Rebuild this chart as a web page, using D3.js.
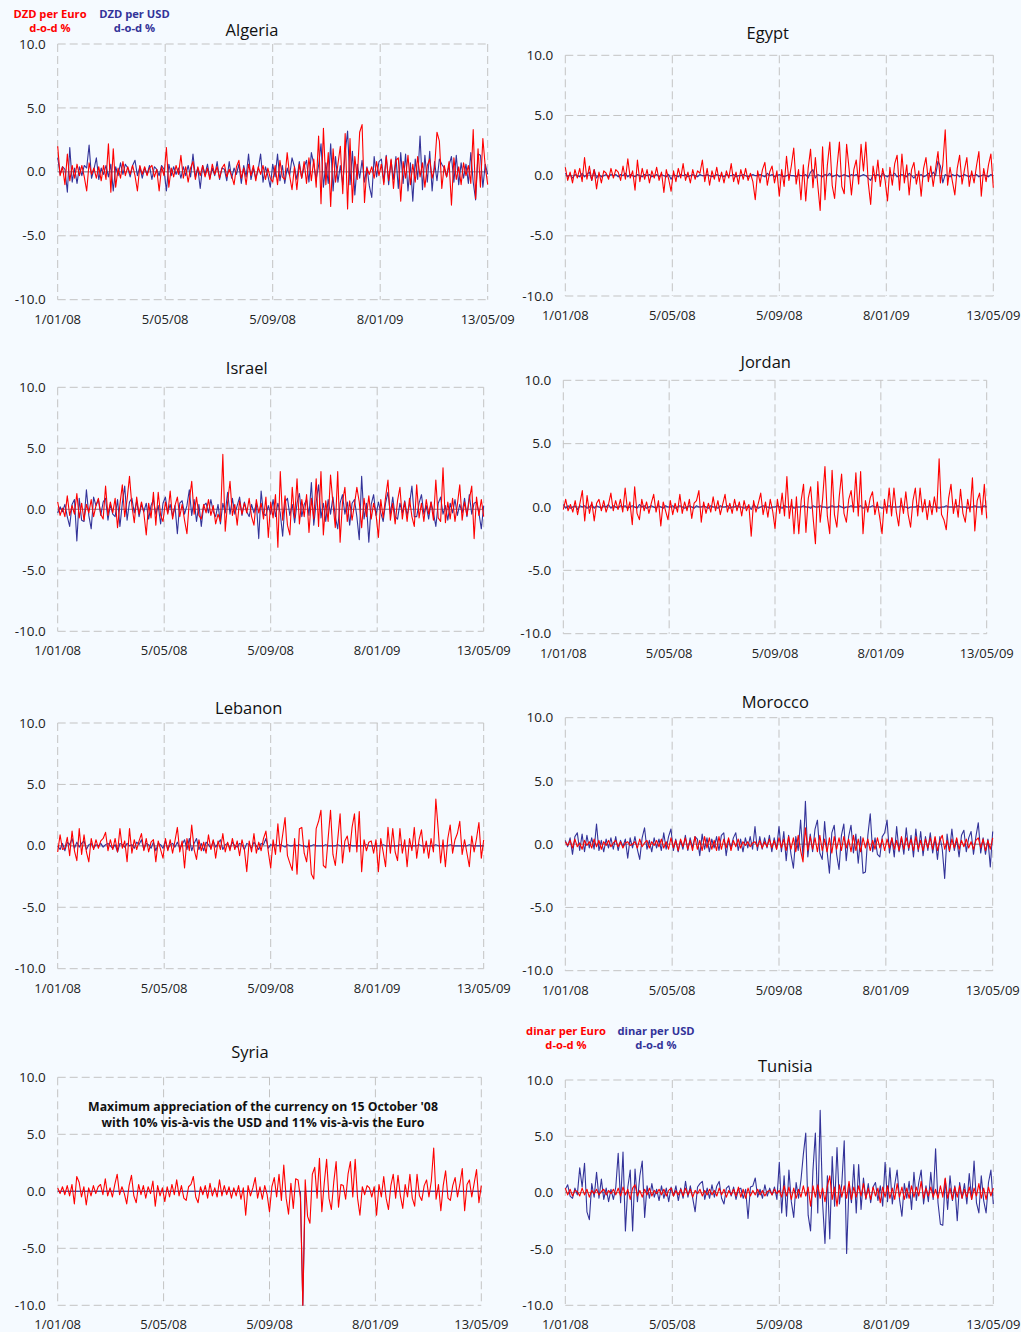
<!DOCTYPE html>
<html>
<head>
<meta charset="utf-8">
<script src="https://cdn.jsdelivr.net/npm/d3@7"></script>
<style>
  html, body { margin: 0; padding: 0; background: #f5faff; }
  svg { display: block; font-family: "Open Sans", "DejaVu Sans", sans-serif; }
</style>
</head>
<body>
<div id="chart"></div>
<script>
// Day-on-day % changes of local currencies against the Euro and the US dollar,
// one value every second business day from 1 Jan 2008 to 13 May 2009.
const tickLabels = ["1/01/08", "5/05/08", "5/09/08", "8/01/09", "13/05/09"];
const tickDays = [0, 89, 178, 267, 356];
const lastDay = 356;
const yTicks = [-10, -5, 0, 5, 10];
const countries = ["Algeria", "Egypt", "Israel", "Jordan", "Lebanon", "Morocco", "Syria", "Tunisia"];

const algeriaEuro = [
  2.0,-0.3,0.4,-1.0,1.4,-0.7,0.5,-0.5,0.6,-0.3,0.5,-0.4,-1.5,0.7,-0.2,0.3,-0.5,0.4,-0.7,0.5,
  -0.6,2.2,-1.6,1.8,-1.2,0.3,-0.5,0.8,-0.3,0.4,-0.2,0.5,-0.3,-1.5,0.5,-0.2,0.4,-0.3,0.3,0.5,
  -0.4,0.2,-1.5,0.4,-0.3,1.9,-1.2,0.3,-0.4,0.5,-0.2,1.3,-0.5,0.4,-0.8,0.3,0.8,-0.6,0.4,-0.3,
  0.5,-0.4,0.3,-0.6,0.6,-0.2,0.4,-0.5,0.3,0.6,-0.4,0.2,-0.3,-1.0,0.4,0.9,-0.5,0.3,-1.0,0.6,
  -0.3,0.5,-0.7,0.4,-0.2,0.5,-0.6,0.3,-0.5,-0.8,0.5,-1.0,0.9,-0.4,-0.6,1.5,-0.3,-1.4,0.4,-1.4,
  0.6,-0.5,0.8,-0.9,1.1,-0.7,1.0,-1.2,2.8,-2.5,3.4,-1.0,1.5,-2.7,1.8,-0.8,0.6,2.0,-1.7,3.0,
  -2.9,2.6,-2.4,1.2,-0.6,3.1,3.7,-2.4,0.3,-0.2,0.4,-0.5,0.8,-0.3,0.6,-1.0,1.2,-0.7,1.0,-1.3,
  0.9,1.1,-2.3,0.8,-0.5,1.3,-1.0,0.6,-0.8,1.2,-0.4,0.7,-1.2,0.5,1.0,-0.5,0.3,3.1,2.4,-1.3,
  0.5,-0.4,0.8,-2.6,1.1,-0.6,0.4,-1.0,0.7,-0.3,0.5,-0.9,3.3,-2.1,1.8,-1.2,2.6,0.4,-1.0
];
const algeriaUsd = [
  1.1,-0.2,0.4,0.2,-1.6,1.9,-0.8,0.3,-0.9,0.4,-0.3,0.5,0.3,2.1,-0.5,0.2,1.1,-0.6,0.3,-0.2,
  0.5,-0.4,0.6,-1.5,0.4,-0.3,0.7,-0.2,0.6,0.3,-0.4,0.5,0.9,-0.3,0.4,-0.5,0.3,-0.2,0.5,-0.6,
  0.4,0.2,-0.3,0.5,0.2,-1.5,0.6,-0.3,0.4,-0.2,0.3,-0.5,0.4,-0.3,0.5,-0.4,1.4,-0.4,0.3,-1.3,
  0.5,-0.2,0.6,-0.5,0.3,-0.3,0.8,-0.6,0.3,0.2,-0.7,0.8,-0.5,0.3,-0.2,0.6,-0.9,0.5,-0.4,1.4,
  -0.6,0.3,-0.5,0.2,1.4,-0.8,0.4,-0.3,-1.2,0.6,-0.4,1.4,-0.7,0.5,-0.9,0.3,-0.3,1.1,0.4,-0.6,
  0.8,-0.5,0.4,0.9,-0.8,1.5,0.6,-0.6,0.5,2.2,-1.2,0.7,-0.9,2.2,-1.5,1.2,-0.8,0.5,-1.0,1.5,
  3.2,-1.0,1.6,-1.8,0.6,-0.5,0.9,-0.8,0.4,-1.1,-2.0,1.2,-0.4,0.8,1.0,-0.8,1.3,-1.0,0.9,-0.6,
  1.2,-1.3,1.5,-0.9,1.4,-1.5,0.7,-2.3,1.0,-0.6,2.8,-1.4,1.3,-0.8,1.6,-1.5,0.8,-0.7,1.0,0.6,
  0.3,-0.4,0.5,1.2,-0.8,1.3,-1.0,0.7,-0.5,0.6,-0.9,1.5,-0.8,-2.2,1.4,1.3,-1.2,0.6,-0.2
];
const egyptEuro = [
  0.7,-0.4,0.3,-0.6,0.5,-0.2,0.6,-0.5,1.5,-0.3,0.8,-0.4,0.5,-1.1,0.3,-0.6,0.4,0.2,-0.3,0.6,
  -0.2,0.5,0.3,-0.4,0.8,-0.3,1.4,-0.2,0.4,-1.2,1.3,-0.5,0.6,-0.3,0.5,-0.6,0.4,-0.2,0.7,-0.4,
  0.3,-1.4,0.5,-0.3,-1.3,0.4,-0.5,0.6,-0.2,1.0,-0.4,0.3,-0.6,0.5,-0.3,0.4,0.2,1.3,-0.5,0.6,
  -0.8,0.4,-0.3,0.7,-0.5,0.3,-0.6,0.4,-0.2,1.0,-0.5,0.3,-0.7,0.5,-0.3,0.6,-0.4,0.2,-0.5,-2.0,
  0.4,-0.6,0.5,1.1,-0.8,0.3,0.8,-0.6,0.4,-1.7,0.5,-0.9,1.6,-0.4,0.8,2.3,-0.7,0.5,-2.0,0.9,
  -2.1,0.6,2.2,-1.0,1.5,-0.8,-2.9,2.4,-2.0,0.9,2.8,-0.8,-1.9,0.7,2.8,-0.9,-1.5,2.6,0.6,-1.6,
  0.5,1.3,-0.7,2.6,0.4,2.8,-0.6,-2.4,0.8,-0.5,1.3,-0.9,0.6,-0.4,-2.1,0.7,-0.8,1.0,1.7,-1.2,
  1.8,-0.6,0.9,-1.6,0.5,1.1,-0.7,0.4,-1.7,0.6,1.5,-0.5,0.8,-0.9,0.6,2.0,-0.6,0.9,3.8,-0.8,
  0.7,-0.5,-1.6,0.6,1.7,-0.7,0.5,1.5,-0.9,0.4,-0.6,0.8,2.0,-1.7,0.6,-0.5,0.9,1.8,-1.0
];
const egyptUsd = [
  0.2,-0.1,0.1,-0.2,0.1,0.0,-0.1,0.2,-0.1,0.1,0.3,-0.4,0.5,-0.2,0.1,-0.1,0.0,0.1,-0.1,0.1,
  0.0,0.1,-0.1,0.1,0.0,0.2,-0.1,0.1,0.0,-0.1,0.1,0.0,-0.1,0.1,0.0,0.1,-0.1,0.0,0.1,-0.1,
  0.1,0.0,-0.1,0.1,-0.3,0.1,0.0,-0.1,0.1,0.0,0.1,-0.1,0.0,0.1,0.0,-0.1,0.1,0.0,0.0,0.1,
  0.0,-0.1,0.0,0.1,0.0,0.0,-0.1,0.1,0.0,0.0,0.1,-0.1,0.0,0.0,0.1,0.0,-0.1,0.0,0.1,0.0,
  0.0,0.1,0.0,-0.1,0.2,0.0,0.1,-0.1,0.0,0.1,0.0,-0.1,0.0,0.1,0.0,0.0,-0.1,0.1,0.0,0.0,
  0.1,-0.2,0.3,0.5,-0.2,0.1,0.0,-0.1,0.1,0.0,0.2,-0.1,0.0,0.1,-0.1,0.0,0.1,0.0,-0.1,0.1,
  0.0,0.1,-0.1,0.0,0.1,0.0,-0.2,-0.4,0.1,0.0,0.1,-0.1,0.2,0.0,-0.1,0.1,0.0,0.2,-0.1,0.0,
  0.1,0.0,-0.1,0.2,0.0,-0.2,0.1,0.0,0.1,-0.1,0.0,0.2,-0.1,0.3,0.0,1.2,0.8,-0.6,0.1,0.0,
  -0.1,0.1,0.0,0.1,-0.1,0.0,0.1,0.0,-0.1,0.1,0.0,0.1,-0.1,0.0,0.1,0.0,-0.1,0.1,0.0
];
const israelEuro = [
  0.6,-0.5,0.1,-0.6,1.1,-0.5,0.3,-0.4,1.3,-0.7,0.5,-0.9,0.4,-0.3,0.8,-0.6,0.3,0.9,-0.4,-0.8,
  1.9,-0.5,0.6,-0.3,0.9,-1.5,0.4,2.0,-0.6,0.8,2.7,0.3,-1.1,1.0,-0.4,0.6,-0.3,-2.1,0.5,-0.7,
  1.4,-1.3,1.4,-0.5,-1.0,0.6,-0.4,1.5,-0.8,0.3,1.0,-0.6,0.4,-0.9,-2.0,0.7,2.3,-0.4,1.0,-0.5,
  -0.8,0.4,-0.3,0.8,-0.5,0.3,-1.2,-0.4,-1.0,4.5,-1.8,0.6,2.3,-0.5,0.4,-1.3,0.7,-0.4,0.5,-0.3,
  0.9,-0.6,-1.3,0.8,-0.3,0.5,-0.8,1.0,-2.3,0.6,-0.7,1.2,-3.1,3.1,-0.9,1.1,-1.3,-2.1,1.8,-0.7,
  2.5,-1.2,0.8,-0.6,1.2,-1.9,0.9,-0.8,2.5,-1.4,3.1,-2.1,0.7,-1.0,2.8,0.5,-1.5,3.1,-2.7,0.6,
  1.8,-1.0,0.7,-0.9,0.4,1.8,0.6,-1.5,0.9,-0.6,1.1,-0.8,0.5,-0.4,-2.3,0.8,-0.7,1.0,2.4,-0.9,
  0.5,-1.2,0.7,1.8,-0.8,0.6,-1.0,0.9,-0.6,-1.4,2.0,-0.7,0.5,-1.0,0.8,-0.4,0.6,-0.9,2.4,-0.7,
  -1.0,3.4,-1.1,0.6,-0.8,0.9,-1.0,0.4,2.0,-0.9,0.6,-0.5,0.8,1.9,-2.4,1.0,-0.5,0.8,-0.6
];
const israelUsd = [
  -0.3,0.2,-0.2,0.4,-0.6,-1.4,0.4,0.8,-2.6,0.9,-0.9,-1.0,1.6,-0.5,-1.6,1.0,0.3,0.8,-0.5,0.6,
  0.9,-0.9,0.4,-0.4,-0.6,0.8,-1.4,0.5,1.9,-0.9,0.6,0.9,-0.3,0.7,-0.6,0.4,-0.2,0.5,-0.8,0.3,
  0.8,-0.4,0.3,-1.2,0.5,1.0,-0.3,0.4,-0.6,0.3,-2.0,0.5,0.7,-0.4,0.3,1.6,-0.5,0.8,-1.0,0.4,
  -1.4,0.3,0.5,-0.3,0.8,-0.2,-0.6,0.4,-1.2,0.5,-0.3,1.4,-0.4,0.9,-0.4,0.3,1.0,-0.5,0.6,-0.2,
  -0.6,0.4,-0.3,0.5,-2.4,1.5,-0.4,-0.5,0.3,-0.4,0.8,-0.6,0.5,-0.3,-2.2,0.6,0.9,-0.5,0.4,-1.1,
  0.5,1.3,-0.6,0.4,0.8,-0.5,2.2,-1.3,0.6,2.0,-0.7,0.5,-1.0,0.8,-0.4,1.0,-0.6,-1.6,0.5,1.2,
  -0.4,0.6,-1.3,0.5,0.8,-0.6,-2.5,2.7,-0.8,0.5,-2.7,0.4,1.2,-0.5,0.6,-0.3,-1.0,0.5,1.4,-0.4,
  1.0,-0.6,-0.8,0.5,-0.3,0.7,-0.5,0.4,1.9,-0.6,-0.6,0.5,1.2,-0.4,0.3,-0.8,0.6,-0.3,-1.4,0.5,
  1.0,-0.4,0.3,-0.9,0.5,-0.3,0.8,-0.5,0.4,-0.3,0.9,-0.6,1.2,-0.4,0.5,0.6,-0.3,-1.6,0.3
];
const jordanEuro = [
  -0.2,0.6,-0.3,0.2,-0.4,0.5,-0.6,0.3,1.3,-1.1,0.9,-0.5,0.4,-1.1,0.3,0.6,-0.3,0.5,-0.4,0.2,
  1.1,-0.3,0.5,-0.2,0.6,-0.4,1.5,-0.3,0.4,-1.4,1.6,-0.5,-1.0,0.6,-0.3,0.4,-0.5,0.3,1.0,-0.4,
  0.5,-1.5,0.4,-0.3,-1.0,0.5,-0.6,0.3,-0.4,1.0,-0.5,0.4,-0.3,0.6,-0.9,0.3,0.5,1.3,-1.2,0.4,
  -0.5,0.3,-0.4,0.8,-0.3,0.5,-0.6,0.2,1.0,-0.4,0.3,-0.5,0.6,-0.3,0.4,-0.7,0.5,-0.3,0.2,-2.3,
  0.5,-0.4,0.3,1.1,-0.6,0.4,-0.8,0.6,-0.3,-1.7,0.6,-0.5,1.1,-0.7,2.4,-0.9,0.6,-2.1,0.8,-2.1,
  0.5,1.8,-2.0,0.7,1.6,-0.8,-2.9,2.0,-1.2,0.6,3.2,-0.7,-2.1,2.9,-0.6,-1.6,0.8,2.6,-0.5,-1.2,
  0.6,1.3,-0.4,2.7,-0.7,2.8,-2.1,0.5,-0.4,0.7,1.2,-0.6,0.4,-0.8,-2.1,0.6,-0.5,1.5,-0.7,1.5,
  -0.4,-1.5,0.7,-0.5,1.2,-0.6,-1.6,0.5,1.5,-0.7,1.5,-0.4,0.6,-1.0,0.5,-0.6,0.8,-0.4,3.8,-0.6,
  -1.0,-1.8,0.7,1.8,-0.5,0.6,-0.8,1.4,-0.5,-1.2,0.6,-0.4,2.3,-1.9,0.5,1.1,-0.6,1.8,-0.9
];
const jordanUsd = [
  0.2,-0.1,0.1,-0.1,0.0,0.1,-0.2,0.1,0.0,0.1,-0.1,0.0,0.2,-0.1,0.1,0.0,-0.1,0.1,0.0,0.2,
  -0.1,0.1,0.0,-0.1,0.1,0.0,0.1,-0.1,0.0,0.1,0.0,-0.1,0.2,0.0,0.1,-0.1,0.0,0.1,0.0,-0.1,
  0.1,0.0,-0.1,0.1,0.0,0.0,0.1,-0.1,0.0,0.1,0.0,-0.1,0.0,0.1,0.0,-0.1,0.1,0.0,0.0,0.1,
  0.0,-0.1,0.1,0.0,0.0,-0.1,0.1,0.0,0.0,0.1,-0.1,0.0,0.0,0.1,0.0,0.0,-0.1,0.0,0.1,-0.2,
  0.2,0.0,-0.1,0.0,0.1,0.0,0.0,-0.1,0.0,0.0,0.1,0.0,-0.1,0.1,0.0,0.0,0.1,-0.1,0.0,0.0,
  0.0,0.1,0.0,0.0,-0.1,0.1,0.0,0.0,0.1,0.0,0.0,-0.1,0.0,0.1,0.0,0.0,0.1,0.0,-0.1,0.0,
  0.0,0.1,0.0,0.0,0.0,0.1,-0.1,0.0,0.0,0.0,0.1,0.0,0.0,0.0,-0.1,0.0,0.0,0.1,0.0,0.0,
  0.0,0.0,0.1,0.0,0.0,-0.1,0.0,0.0,0.0,0.1,0.0,0.0,0.0,0.0,0.1,0.0,0.0,0.0,-0.1,0.0,
  0.0,0.1,0.0,0.0,0.0,0.0,0.1,0.0,0.0,0.0,-0.1,0.0,0.0,0.1,0.0,0.0,0.0,0.1,0.0
];
const lebanonEuro = [
  -0.5,0.9,-0.3,-0.2,0.7,-0.8,1.2,-0.4,-1.2,1.4,-0.7,0.9,-0.5,-1.3,0.6,-0.3,0.5,-0.2,0.4,0.6,
  1.1,-0.4,0.5,-0.3,0.6,-0.5,1.4,-0.2,0.4,-1.3,1.4,-0.6,0.5,-0.3,0.4,1.0,-0.4,0.6,-0.5,0.3,
  0.5,-1.3,0.4,-0.3,-1.0,0.6,-0.4,0.5,-0.6,0.4,1.5,-0.5,0.4,-1.8,0.6,-0.4,1.7,-0.3,-1.1,0.5,
  -0.4,0.3,-0.6,0.9,-0.3,0.5,-1.0,0.4,-0.3,1.0,-0.5,0.3,-0.4,0.6,-0.3,0.4,-0.8,0.5,-0.3,-2.1,
  0.4,-0.5,1.0,-0.6,0.3,-0.4,0.6,1.2,-0.5,-1.8,0.5,-0.7,1.8,-0.5,0.9,2.3,-0.8,-1.4,-2.0,0.6,
  -2.3,1.4,1.5,-0.6,-1.3,0.5,-2.3,-2.7,1.4,2.0,2.9,-1.6,-1.8,0.6,2.9,-0.7,-1.6,0.5,2.6,-1.4,
  0.4,0.8,-0.5,1.5,2.6,-0.5,2.8,-2.1,0.5,-0.4,0.3,0.4,-0.6,0.5,-2.1,0.6,-0.5,-1.7,1.5,-0.6,
  1.4,-0.5,-1.2,1.4,-0.6,0.5,-1.7,0.6,-0.4,1.5,-1.0,0.5,1.3,-0.6,0.4,-1.0,0.6,-0.5,3.8,1.3,
  -1.4,0.5,-1.7,0.6,1.7,-0.6,0.5,1.0,2.0,-0.7,0.5,-0.6,-1.7,0.8,-0.5,0.6,1.9,-1.0,0.5
];
const lebanonUsd = [
  0.0,-0.3,0.2,-0.4,0.3,0.1,0.6,-0.2,0.3,-0.1,0.2,0.4,-0.3,0.1,0.2,-0.2,0.1,0.0,0.2,-0.1,
  0.1,0.2,0.0,-0.2,0.1,-0.5,0.2,0.1,-0.1,0.2,0.0,0.1,-0.2,0.3,0.1,0.5,-0.3,0.2,0.1,-0.2,
  0.3,-0.4,0.2,0.1,-0.2,0.4,-0.3,0.1,0.2,-0.1,0.3,-0.2,0.1,0.5,-0.3,0.6,-0.4,0.2,0.6,-0.3,
  0.2,-0.4,0.3,0.1,-0.2,0.4,-0.1,0.2,0.5,-0.3,0.1,0.2,-0.2,0.3,0.0,-0.1,0.2,0.1,-0.3,0.2,
  0.1,-0.2,0.3,0.0,-0.3,0.2,0.1,0.6,-0.2,0.1,0.0,0.1,0.0,0.1,0.0,-0.1,0.1,0.0,0.0,0.1,
  0.0,0.1,0.0,0.0,-0.1,0.0,0.0,0.1,0.0,0.0,0.0,0.0,0.1,0.0,0.0,0.0,0.0,0.1,0.0,0.0,
  0.0,0.0,0.1,0.0,0.0,0.0,0.0,0.0,0.0,0.1,0.0,0.0,0.0,0.0,0.0,0.0,0.1,0.0,0.0,0.0,
  0.0,0.0,0.0,0.1,0.0,0.0,0.0,0.0,0.0,0.0,0.0,0.1,0.0,0.0,0.0,0.0,0.0,0.0,0.1,0.0,
  0.0,0.0,0.0,0.0,0.1,0.0,0.0,0.0,0.0,0.0,0.0,0.0,0.1,0.0,0.0,0.0,0.0,0.0,0.0
];
const moroccoEuro = [
  0.2,-0.1,0.3,-0.3,0.4,-0.2,0.1,-0.4,0.3,-0.1,0.2,-0.3,0.4,-0.2,0.3,-0.4,0.2,-0.1,0.3,-0.2,
  0.1,0.3,-0.2,0.2,-0.3,0.1,0.2,-0.1,0.0,0.2,-0.3,0.4,-0.2,0.1,0.3,-0.3,0.2,-0.1,0.3,-0.2,
  0.4,-0.3,0.2,-0.4,0.5,-0.3,0.3,-0.5,0.4,-0.2,0.5,-0.4,0.3,-0.5,0.6,-0.4,0.3,-0.5,0.6,-0.3,
  0.5,-0.4,0.3,-0.5,0.6,-0.4,0.4,-0.3,0.5,-0.5,0.3,-0.2,0.4,-0.3,0.2,-0.1,0.2,-0.2,0.1,0.2,
  -0.2,0.3,-0.3,0.2,-0.2,0.4,-0.3,0.3,-0.4,0.5,-0.3,0.4,-0.5,0.6,-0.4,0.5,-0.6,0.7,-0.5,-1.4,
  1.3,-0.5,0.6,-0.4,0.5,-0.6,0.7,-0.5,0.4,-0.6,0.5,-0.7,0.6,-0.4,0.5,-0.5,0.6,-0.3,0.4,-0.6,
  0.7,-0.5,0.4,-0.6,0.5,-0.3,0.4,-0.5,0.3,-0.4,0.5,-0.3,0.4,-0.5,0.4,-0.3,0.5,-0.4,0.3,-0.5,
  0.6,-0.4,0.5,-0.3,0.4,-0.5,0.6,-0.4,0.3,-0.5,0.4,-0.3,0.5,-0.4,0.6,-0.5,0.3,0.7,-0.4,0.3,
  -0.5,0.4,-0.3,0.5,-0.4,0.3,-0.2,0.4,-0.3,0.2,-0.4,0.3,0.5,-0.3,0.4,-0.5,0.3,-0.4,0.5
];
const moroccoUsd = [
  0.3,-0.2,0.5,-0.8,0.6,0.9,-0.5,0.8,-0.6,0.7,-0.3,0.5,-0.4,1.6,-0.5,0.3,-0.6,0.4,-0.3,0.5,
  -0.4,0.6,-0.5,0.3,-0.2,0.4,-1.1,0.5,-0.3,0.6,-0.4,-1.2,0.5,1.3,-0.4,0.3,-0.6,0.5,-0.3,0.4,
  -0.5,0.9,-0.4,0.6,1.2,-0.5,0.4,-0.6,0.3,-0.4,0.7,-0.5,0.5,-0.3,0.6,0.4,-0.9,0.8,-0.4,0.5,
  -0.6,0.4,-0.3,0.6,-0.5,0.7,0.9,-0.9,0.4,-0.3,0.5,0.9,-0.5,0.4,-0.6,0.5,-0.3,0.6,-0.4,1.4,
  -0.5,0.6,-0.4,0.5,-0.3,0.7,-0.6,0.5,-0.4,1.4,-0.6,1.0,-1.3,0.7,-0.8,-1.9,0.6,-0.5,1.9,-1.0,
  3.4,-1.0,0.8,-0.6,1.2,1.9,-0.7,-1.2,1.8,-0.5,-2.3,0.9,1.5,-0.8,-2.0,0.7,1.6,-1.3,0.6,1.5,
  -0.7,0.8,-1.5,0.6,-2.3,-2.2,0.7,2.4,-0.6,0.5,-0.8,-1.0,0.6,0.9,1.9,-0.7,0.5,-1.0,1.4,-0.6,
  0.5,-0.8,1.3,-0.5,0.7,-1.0,1.2,-0.6,1.0,-0.9,0.6,-0.5,0.9,-0.7,0.5,-1.2,0.6,-0.4,-2.7,0.8,
  -0.6,1.2,-0.5,0.4,-1.0,0.7,1.1,-0.6,0.5,1.0,-0.8,0.6,1.7,-0.7,0.5,-0.8,0.4,-1.8,1.0
];
const syriaEuro = [
  0.3,-0.2,0.4,-0.3,0.5,-0.4,0.6,-1.1,1.3,0.8,-0.5,0.4,-1.2,0.3,-0.4,0.5,-0.2,0.4,0.6,-0.3,
  1.1,-0.4,0.3,-0.5,0.6,1.5,-0.3,0.4,-0.2,-1.1,0.5,1.4,-0.4,-1.0,0.6,-0.3,0.5,-0.6,0.4,-0.2,
  0.9,-1.3,0.5,-0.4,0.3,-0.9,0.4,-0.5,0.6,-0.3,1.0,-0.4,0.5,-0.6,-0.8,0.4,0.6,1.3,-0.5,-1.0,
  0.4,-0.3,0.5,-0.6,0.7,-0.4,0.3,-0.5,1.0,-0.4,0.5,-0.3,0.4,-0.6,0.3,-0.4,0.5,-0.7,0.3,-2.1,
  0.5,-0.4,0.3,1.2,-0.6,0.4,-0.7,0.5,-0.3,-1.8,0.4,1.2,-0.5,1.5,-0.8,2.3,-0.6,-2.0,0.7,-1.5,
  1.1,1.0,-0.6,-10.0,1.0,-2.2,-2.8,1.5,2.1,-0.6,2.9,-1.8,0.7,2.8,-0.6,-1.6,0.8,2.6,-1.4,0.6,
  0.5,-0.7,1.5,2.6,-0.5,2.8,-0.6,-2.1,0.4,-0.3,0.5,0.3,-0.5,0.4,-2.1,0.6,-0.5,1.3,-0.6,-1.6,
  0.5,1.5,-0.6,1.4,-0.4,-1.5,0.6,-0.5,1.5,-0.6,-1.3,1.5,-0.4,-0.8,0.5,1.0,-0.5,0.9,3.8,-0.7,
  0.6,-1.7,0.5,1.8,-0.6,-0.8,0.5,1.2,-0.5,0.6,2.0,-1.7,0.6,1.0,-0.5,0.7,1.9,-1.0,0.5
];
const syriaUsd = [
  0,0,0,0,0,0,0,0,0,0,0,0,0,0,0,0,0,0,0,0,
  0,0,0,0,0,0,0,0,0,0,0,0,0,0,0,0,0,0,0,0,
  0,0,0,0,0,0,0,0,0,0,0,0,0,0,0,0,0,0,0,0,
  0,0,0,0,0,0,0,0,0,0,0,0,0,0,0,0,0,0,0,0,
  0,0,0,0,0,0,0,0,0,0,0,0,0,0,0,0,0,0,0,0,
  0,0,0,-10.0,0,0,0,0,0,0,0,0,0,0,0,0,0,0,0,0,
  0,0,0,0,0,0,0,0,0,0,0,0,0,0,0,0,0,0,0,0,
  0,0,0,0,0,0,0,0,0,0,0,0,0,0,0,0,0,0,0,0,
  0,0,0,0,0,0,0,0,0,0,0,0,0,0,0,0,0,0,0
];
const tunisiaEuro = [
  0.4,-0.2,0.3,-0.3,0.2,0.1,-0.3,0.4,-0.2,0.3,-0.4,0.2,-0.1,0.3,-0.2,0.1,0.3,-0.2,0.2,-0.1,
  0.3,-0.2,0.4,-0.3,0.5,-0.2,0.3,-0.6,0.4,0.7,-0.3,0.2,-0.4,0.3,-0.2,0.4,-0.3,0.2,-0.1,0.3,
  -0.2,0.3,-0.3,0.2,0.4,-0.3,0.2,-0.2,0.3,-0.3,0.4,-0.2,0.3,-0.4,0.2,-0.1,0.3,-0.3,0.2,-0.2,
  0.3,-0.2,0.2,-0.3,0.4,-0.2,0.3,-0.4,0.2,-0.2,0.3,-0.3,0.5,-0.4,0.3,-0.5,0.4,-0.3,0.2,-0.2,
  0.3,-0.2,0.2,-0.3,0.1,0.2,-0.2,0.3,-0.1,0.2,-0.4,0.6,-0.3,0.5,-0.6,0.4,-0.5,0.3,-0.4,0.6,
  -0.3,0.5,-1.2,0.6,-0.4,0.7,-0.5,0.4,-0.8,0.6,1.5,-0.6,0.5,-1.2,0.7,-0.4,0.6,-0.5,1.0,-0.6,
  0.5,-0.4,0.6,-0.3,0.8,-0.5,0.4,-0.6,0.5,-0.3,0.4,-0.9,0.5,-0.4,0.6,-0.5,0.4,-0.6,0.8,-0.4,
  0.5,-0.6,0.4,-0.5,0.6,-0.4,0.5,-0.3,1.0,-0.5,0.4,-0.3,0.5,-0.4,0.3,-0.5,0.6,-0.4,1.3,-0.5,
  0.4,-0.6,0.5,-0.4,0.6,-0.5,0.3,-0.4,0.5,-0.6,0.4,-0.3,0.8,-0.5,0.4,-0.6,0.5,-0.3,0.4
];
const tunisiaUsd = [
  0.3,0.7,-0.3,-0.5,0.4,-0.2,2.2,0.5,2.6,-1.7,-2.4,0.8,-0.4,1.8,-0.5,1.2,-0.6,0.4,-0.8,0.3,
  -0.6,0.5,3.5,-0.9,3.6,-3.4,0.5,2.0,-3.4,2.1,-0.8,1.5,2.8,-2.2,0.6,-0.5,0.8,-0.4,0.3,-0.7,
  0.6,-0.5,0.4,-0.8,0.5,-0.3,0.6,-0.7,0.4,-0.5,1.0,-0.4,0.6,-0.5,-1.7,0.5,0.8,1.0,-0.6,0.4,
  -0.5,0.7,-0.4,0.6,1.0,-0.5,-1.0,0.4,0.6,-0.3,0.5,-0.6,0.3,0.4,-0.5,0.3,-2.3,0.5,0.6,1.3,
  -0.4,0.3,-0.5,0.7,-0.3,0.4,-0.2,0.5,-0.6,2.7,-1.8,1.5,-2.1,2.0,-0.8,-2.2,0.9,-0.5,1.1,3.4,
  5.3,-2.0,-3.4,2.0,5.3,-1.8,7.3,-0.9,-4.5,1.5,-4.1,3.2,-1.2,4.0,-1.0,0.8,4.6,-5.4,0.7,-0.9,
  2.5,-1.8,2.5,-1.5,1.3,-0.6,0.8,-0.9,0.5,0.9,-0.7,0.6,-1.2,2.7,-0.8,2.2,-1.0,0.7,2.0,-0.6,
  -2.1,0.8,-0.5,1.0,-1.5,1.8,-0.7,0.9,2.0,-1.0,0.6,-0.8,1.8,-0.6,3.9,-0.9,-2.8,-2.9,1.2,-1.5,
  1.5,-0.7,0.6,-2.5,0.9,-0.5,0.8,-1.0,1.7,-0.6,2.8,-0.9,-1.8,1.5,-0.7,-1.8,0.9,2.0,-1.0
];

const euroSeries = [algeriaEuro, egyptEuro, israelEuro, jordanEuro, lebanonEuro, moroccoEuro, syriaEuro, tunisiaEuro];
const usdSeries = [algeriaUsd, egyptUsd, israelUsd, jordanUsd, lebanonUsd, moroccoUsd, syriaUsd, tunisiaUsd];

// Panel frames (plot area edges and title anchor), two columns by four rows.
const frames = [
  { left: 57.7,  right: 487.7, top: 44,     bottom: 299.7,  tx: 252,   ty: 32 },
  { left: 565.3, right: 993.3, top: 55.3,   bottom: 296,    tx: 767.7, ty: 35 },
  { left: 57.7,  right: 483.7, top: 387.3,  bottom: 631.3,  tx: 246.7, ty: 370 },
  { left: 563.3, right: 986.7, top: 380.3,  bottom: 633.7,  tx: 765.7, ty: 364 },
  { left: 57.7,  right: 483.7, top: 723,    bottom: 968.7,  tx: 248.7, ty: 710 },
  { left: 565.3, right: 992.7, top: 717.7,  bottom: 970.7,  tx: 775.3, ty: 704 },
  { left: 57.7,  right: 481.3, top: 1077.3, bottom: 1305.3, tx: 250,   ty: 1054 },
  { left: 565.3, right: 993.3, top: 1080,   bottom: 1305.3, tx: 785.3, ty: 1068 }
];

const RED = "#ff0000", BLUE = "#333399", GRID = "#c3c3c3";
const W = 1021, H = 1332;

const svg = d3.select("#chart").append("svg")
  .attr("width", W).attr("height", H);

svg.append("rect").attr("width", W).attr("height", H).attr("fill", "#f5faff");

// one decimal, plain hyphen for negatives
const fmt = d => d.toFixed(1);

frames.forEach((f, k) => {
  const x = d3.scaleLinear().domain([0, lastDay]).range([f.left, f.right]);
  const y = d3.scaleLinear().domain([-10, 10]).range([f.bottom, f.top]);
  const g = svg.append("g");

  // dashed grid
  g.selectAll("line.h").data(yTicks).join("line")
    .attr("x1", f.left).attr("x2", f.right)
    .attr("y1", d => y(d)).attr("y2", d => y(d))
    .attr("stroke", GRID).attr("stroke-width", 1).attr("stroke-dasharray", "8,4");
  g.selectAll("line.v").data(tickDays).join("line")
    .attr("x1", d => x(d)).attr("x2", d => x(d))
    .attr("y1", f.top).attr("y2", f.bottom)
    .attr("stroke", GRID).attr("stroke-width", 1).attr("stroke-dasharray", "8,4");

  // axis labels
  g.selectAll("text.yl").data(yTicks).join("text")
    .attr("x", f.left - 12).attr("y", d => y(d) + 1)
    .attr("text-anchor", "end").attr("dominant-baseline", "middle")
    .attr("font-size", 13.5).attr("fill", "#222")
    .text(d => fmt(d));
  g.selectAll("text.xl").data(tickDays).join("text")
    .attr("x", d => x(d)).attr("y", f.bottom + 20.5)
    .attr("text-anchor", "middle").attr("dominant-baseline", "middle")
    .attr("font-size", 13).attr("fill", "#222")
    .text((d, i) => tickLabels[i]);

  // zero axis
  g.append("line")
    .attr("x1", f.left).attr("x2", f.right)
    .attr("y1", y(0)).attr("y2", y(0))
    .attr("stroke", "#6d6d8a").attr("stroke-width", 0.8);

  const clipId = "clip" + k;
  svg.append("clipPath").attr("id", clipId).append("rect")
    .attr("x", f.left - 2).attr("y", f.top - 2)
    .attr("width", f.right - f.left + 4).attr("height", f.bottom - f.top + 4);

  const seriesLine = arr => d3.line()
    .x((d, i) => x(i * lastDay / (arr.length - 1)))
    .y(d => y(d))(arr);

  g.append("path").attr("d", seriesLine(usdSeries[k]))
    .attr("fill", "none").attr("stroke", BLUE).attr("stroke-width", 1.1)
    .attr("stroke-linejoin", "round").attr("clip-path", `url(#${clipId})`);
  g.append("path").attr("d", seriesLine(euroSeries[k]))
    .attr("fill", "none").attr("stroke", RED).attr("stroke-width", 1.1)
    .attr("stroke-linejoin", "round").attr("clip-path", `url(#${clipId})`);

  g.append("text")
    .attr("x", f.tx).attr("y", f.ty)
    .attr("text-anchor", "middle").attr("dominant-baseline", "middle")
    .attr("font-size", 16.5).attr("fill", "#111")
    .text(countries[k]);
});

// series keys
function key(cx, cy, lines, color) {
  lines.forEach((t, i) => {
    svg.append("text")
      .attr("x", cx).attr("y", cy + i * 13.5)
      .attr("text-anchor", "middle").attr("dominant-baseline", "middle")
      .attr("font-size", 11.2).attr("font-weight", "bold").attr("fill", color)
      .text(t);
  });
}
key(50, 15, ["DZD per Euro", "d-o-d %"], RED);
key(134.5, 15, ["DZD per USD", "d-o-d %"], BLUE);
key(566, 1032, ["dinar per Euro", "d-o-d %"], RED);
key(656, 1032, ["dinar per USD", "d-o-d %"], BLUE);

// note on the Syrian pound
const note = [
  "Maximum appreciation of the currency on 15 October '08",
  "with 10% vis-à-vis the USD and 11% vis-à-vis the Euro"
];
note.forEach((t, i) => {
  svg.append("text")
    .attr("x", 263).attr("y", 1108 + i * 16)
    .attr("text-anchor", "middle").attr("dominant-baseline", "middle")
    .attr("font-size", 12.3).attr("font-weight", "bold").attr("fill", "#111")
    .text(t);
});
</script>
</body>
</html>
